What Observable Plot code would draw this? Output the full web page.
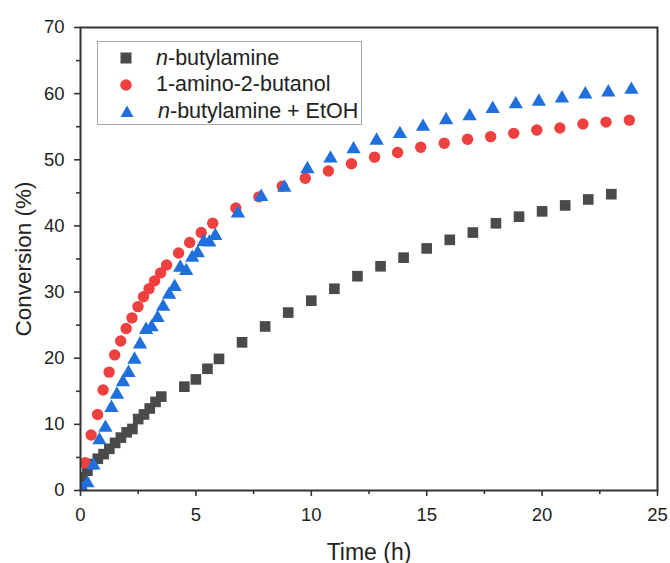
<!DOCTYPE html>
<html>
<head>
<meta charset="utf-8">
<script src="https://cdn.jsdelivr.net/npm/d3@7"></script>
<script src="https://cdn.jsdelivr.net/npm/@observablehq/plot@0.6"></script>
<style>
  html, body { margin: 0; padding: 0; background: #fff; }
  #wrap { position: relative; width: 670px; height: 563px; font-family: "Liberation Sans", Arial, sans-serif; }
  #legend { position: absolute; left: 97px; top: 41px; width: 265px; height: 84px; border: 1px solid #a8a8a8; background: #fff; box-sizing: border-box; }
  .row { position: absolute; left: 0; height: 26px; display: flex; align-items: center; font-size: 21.5px; color: #222; white-space: nowrap; }
  .row svg { margin-left: 22px; margin-right: 24px; }
</style>
</head>
<body>
<div id="wrap"></div>
<script>
// ---- data ----
const seriesNames = ["n-butylamine", "1-amino-2-butanol", "n-butylamine + EtOH"];
const seriesColors = ["#4a4a4a", "#ef4040", "#1f6fdc"];

const butylT = [0.05, 0.3, 0.5, 0.75, 1.0, 1.25, 1.5, 1.75, 2.0, 2.25, 2.5, 2.75, 3.0, 3.25, 3.5,
  4.5, 5.0, 5.5, 6.0, 7.0, 8.0, 9.0, 10.0, 11.0, 12.0, 13.0, 14.0, 15.0, 16.0, 17.0, 18.0, 19.0, 20.0, 21.0, 22.0, 23.0];
const butylY = [2.0, 3.0, 4.0, 4.8, 5.5, 6.3, 7.2, 8.0, 8.8, 9.3, 10.8, 11.5, 12.4, 13.4, 14.2,
  15.7, 16.8, 18.4, 19.9, 22.4, 24.8, 26.9, 28.7, 30.5, 32.4, 33.9, 35.2, 36.6, 37.9, 39.0, 40.4, 41.4, 42.2, 43.1, 44.0, 44.8];

const aminoT = [0.05, 0.2, 0.46, 0.74, 0.98, 1.24, 1.48, 1.74, 1.98, 2.23, 2.49, 2.73, 2.97, 3.21, 3.47, 3.73,
  4.25, 4.73, 5.23, 5.73, 6.73, 7.73, 8.74, 9.74, 10.74, 11.74, 12.74, 13.74, 14.74, 15.76, 16.77, 17.77, 18.77, 19.77, 20.77, 21.77, 22.77, 23.78];
const aminoY = [0.2, 4.2, 8.4, 11.5, 15.2, 17.9, 20.5, 22.6, 24.5, 26.1, 27.8, 29.3, 30.5, 31.7, 32.9, 34.1,
  35.9, 37.5, 39.0, 40.4, 42.7, 44.4, 46.0, 47.2, 48.3, 49.4, 50.4, 51.1, 51.9, 52.5, 53.1, 53.5, 54.0, 54.5, 54.8, 55.4, 55.7, 56.0];

const ethT = [0.06, 0.3, 0.56, 0.82, 1.08, 1.34, 1.58, 1.84, 2.08, 2.34, 2.58, 2.84, 3.08, 3.34, 3.58, 3.84, 4.08, 4.32, 4.58, 4.84, 5.08, 5.34, 5.58, 5.84,
  6.82, 7.83, 8.83, 9.83, 10.83, 11.83, 12.83, 13.84, 14.84, 15.84, 16.86, 17.86, 18.86, 19.86, 20.86, 21.87, 22.87, 23.87];
const ethY = [0.3, 1.1, 3.8, 7.6, 9.5, 12.5, 14.5, 16.4, 17.8, 19.8, 22.1, 24.3, 24.7, 26.1, 27.8, 29.6, 30.8, 33.7, 33.2, 35.2, 35.9, 37.6, 37.5, 38.5,
  41.9, 44.4, 45.8, 48.6, 50.2, 51.6, 52.9, 53.9, 55.0, 56.0, 56.6, 57.7, 58.4, 58.8, 59.3, 59.9, 60.2, 60.6];

const xMajorTicks = [0, 5, 10, 15, 20, 25];
const xMinorTicks = [2.5, 7.5, 12.5, 17.5, 22.5];
const yMajorTicks = [0, 10, 20, 30, 40, 50, 60, 70];
const yMinorTicks = [5, 15, 25, 35, 45, 55, 65];

// ---- build rows ----
const butyl = butylT.map((t, i) => ({t, v: butylY[i]}));
const amino = aminoT.map((t, i) => ({t, v: aminoY[i]}));
const eth = ethT.map((t, i) => ({t, v: ethY[i]}));

const font = "Liberation Sans, Arial, sans-serif";

const chart = Plot.plot({
  width: 670,
  height: 563,
  marginLeft: 80,
  marginRight: 13,
  marginTop: 27,
  marginBottom: 73,
  style: {fontFamily: font, color: "#222", background: "#fff"},
  x: {domain: [0, 25]},
  y: {domain: [0, 70]},
  marks: [
    Plot.axisX({ticks: xMajorTicks, tickSize: 6, tickPadding: 11, fontSize: 18.5, label: null, stroke: "#333", strokeWidth: 1.6}),
    Plot.axisX({ticks: xMinorTicks, tickSize: 4, tickFormat: () => "", label: null, stroke: "#333", strokeWidth: 1.6}),
    Plot.axisX({ticks: [], label: "Time (h)", labelAnchor: "center", labelArrow: "none", labelOffset: 69, fontSize: 23}),
    Plot.axisY({ticks: yMajorTicks, tickSize: 6, tickPadding: 10, fontSize: 18.5, label: null, stroke: "#333", strokeWidth: 1.6}),
    Plot.axisY({ticks: yMinorTicks, tickSize: 4, tickFormat: () => "", label: null, stroke: "#333", strokeWidth: 1.6}),
    Plot.axisY({ticks: [], label: "Conversion (%)", labelAnchor: "center", labelArrow: "none", labelOffset: 65, fontSize: 22.5}),
    Plot.dot(butyl, {x: "t", y: "v", symbol: "square", r: 6, fill: seriesColors[0], clip: true}),
    Plot.dot(amino, {x: "t", y: "v", symbol: "circle", r: 5.7, fill: seriesColors[1], clip: true}),
    Plot.dot(eth, {x: "t", y: "v", symbol: "triangle", r: 5.3, fill: seriesColors[2], clip: true}),
    Plot.frame({stroke: "#333", strokeWidth: 2})
  ]
});

const wrap = document.getElementById("wrap");
wrap.appendChild(chart);

// legend (inside plot area, like the reference)
const legend = document.createElement("div");
legend.id = "legend";
const symbols = [
  `<svg width="12" height="12"><rect x="0.5" y="0.5" width="11" height="11" fill="${seriesColors[0]}"/></svg>`,
  `<svg width="12" height="12"><circle cx="6" cy="6" r="5.8" fill="${seriesColors[1]}"/></svg>`,
  `<svg width="14" height="12"><polygon points="7,0.5 13.5,12 0.5,12" fill="${seriesColors[2]}"/></svg>`
];
const labels = [
  `<i>n</i>-butylamine`,
  `1-amino-2-butanol`,
  `<i>n</i>-butylamine + EtOH`
];
labels.forEach((lab, i) => {
  const row = document.createElement("div");
  row.className = "row";
  row.style.top = (3 + i * 26.5) + "px";
  row.innerHTML = symbols[i] + `<span title="${seriesNames[i]}">${lab}</span>`;
  legend.appendChild(row);
});
wrap.appendChild(legend);
</script>
</body>
</html>
